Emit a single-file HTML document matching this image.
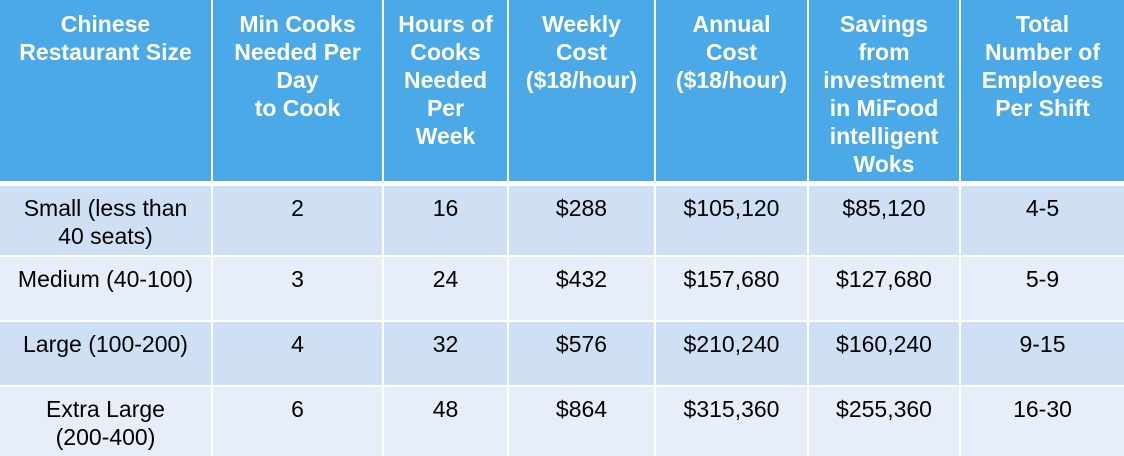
<!DOCTYPE html>
<html><head><meta charset="utf-8"><style>
html,body{margin:0;padding:0;background:#fff;width:1124px;height:456px;overflow:hidden}
table{border-collapse:collapse;table-layout:fixed;width:1124px;font-family:"Liberation Sans",Arial,sans-serif}
th,td{text-align:center;vertical-align:top;border:2px solid #fff;padding:0;overflow:hidden}
th{background:#4BA9E7;color:#fff;font-weight:bold;font-size:23px;line-height:28px;height:171px;padding-top:10px;border-bottom:5px solid #fff}
td{color:#000;font-size:23px;line-height:28px;padding-top:8px}
tr.a td{background:#CFE0F4}
tr.b td{background:#E8EEF9}
tr:first-child th{border-top:none}
th:first-child,td:first-child{border-left:none}
th:last-child,td:last-child{border-right:none}
</style></head><body>
<table>
<colgroup><col style="width:212px"><col style="width:171px"><col style="width:125px"><col style="width:147px"><col style="width:153px"><col style="width:152px"><col style="width:164px"></colgroup>
<tr>
<th>Chinese<br>Restaurant Size</th>
<th>Min Cooks<br>Needed Per<br>Day<br>to Cook</th>
<th>Hours of<br>Cooks<br>Needed<br>Per<br>Week</th>
<th>Weekly<br>Cost<br>($18/hour)</th>
<th>Annual<br>Cost<br>($18/hour)</th>
<th>Savings<br>from<br>investment<br>in MiFood<br>intelligent<br>Woks</th>
<th>Total<br>Number of<br>Employees<br>Per Shift</th>
</tr>
<tr class="a" style="height:72px">
<td>Small (less than<br>40 seats)</td><td>2</td><td>16</td><td>$288</td><td>$105,120</td><td>$85,120</td><td>4-5</td></tr>
<tr class="b" style="height:65px">
<td>Medium (40-100)</td><td>3</td><td>24</td><td>$432</td><td>$157,680</td><td>$127,680</td><td>5-9</td></tr>
<tr class="a" style="height:65px">
<td>Large (100-200)</td><td>4</td><td>32</td><td>$576</td><td>$210,240</td><td>$160,240</td><td>9-15</td></tr>
<tr class="b" style="height:72px">
<td>Extra Large<br>(200-400)</td><td>6</td><td>48</td><td>$864</td><td>$315,360</td><td>$255,360</td><td>16-30</td></tr>
</table>
</body></html>
